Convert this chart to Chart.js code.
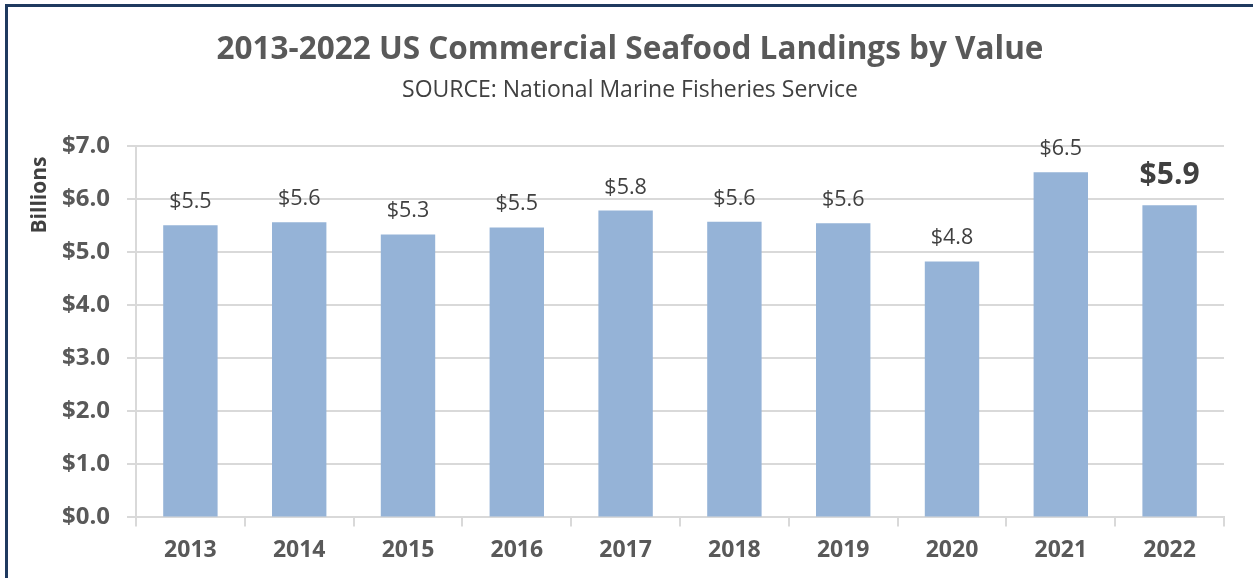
<!DOCTYPE html>
<html>
<head>
<meta charset="utf-8">
<script src="https://cdn.jsdelivr.net/npm/chart.js@4.4.0/dist/chart.umd.min.js"></script>
<style>
  html, body { margin: 0; padding: 0; background: #fff; overflow: hidden; }
  #wrap { position: relative; width: 1253px; height: 578px; }
  #frame { position: absolute; left: 5px; top: 4px; width: 1300px; height: 700px;
           border-top: 3px solid #1f3a5f; border-left: 3px solid #1f3a5f; pointer-events: none; }
  canvas { position: absolute; left: 0; top: 0; }
</style>
</head>
<body>
<div id="wrap">
  <canvas id="landingsChart" width="1253" height="578"></canvas>
  <div id="frame"></div>
</div>
<script>
// values (billions of dollars)
const years = ['2013', '2014', '2015', '2016', '2017', '2018', '2019', '2020', '2021', '2022'];
const landingValues = [5.51, 5.57, 5.34, 5.47, 5.79, 5.58, 5.55, 4.83, 6.51, 5.89];
const valueLabels = ['$5.5', '$5.6', '$5.3', '$5.5', '$5.8', '$5.6', '$5.6', '$4.8', '$6.5', '$5.9'];

const fontFamily = '"Open Sans", "Noto Sans", sans-serif';

// draws the value above each bar, the last one bigger and bold
const barLabels = {
  id: 'barLabels',
  afterDatasetsDraw(chart) {
    const ctx = chart.ctx;
    const meta = chart.getDatasetMeta(0);
    ctx.save();
    ctx.textAlign = 'center';
    ctx.textBaseline = 'alphabetic';
    ctx.fillStyle = '#404040';
    meta.data.forEach((bar, i) => {
      const last = i === meta.data.length - 1;
      ctx.font = last ? `bold 30px ${fontFamily}` : `21.5px ${fontFamily}`;
      ctx.fillText(valueLabels[i], bar.x, bar.y - (last ? 21 : 17));
    });
    ctx.restore();
  }
};

// y axis title sits near the top of the axis, not centred
const yTitle = {
  id: 'yTitle',
  afterDraw(chart) {
    const ctx = chart.ctx;
    ctx.save();
    ctx.translate(40, 195);
    ctx.rotate(-Math.PI / 2);
    ctx.textAlign = 'center';
    ctx.textBaseline = 'middle';
    ctx.fillStyle = '#404040';
    ctx.font = `bold 21px ${fontFamily}`;
    ctx.fillText('Billions', 0, 0);
    ctx.restore();
  }
};

const ctx = document.getElementById('landingsChart').getContext('2d');
const landingsChart = new Chart(ctx, {
  type: 'bar',
  data: {
    labels: years,
    datasets: [{
      label: 'Landings value',
      data: landingValues,
      backgroundColor: '#95b3d7',
      barPercentage: 0.5,
      categoryPercentage: 1.0
    }]
  },
  options: {
    responsive: false,
    animation: false,
    layout: { padding: { left: 36, right: 29, top: 0, bottom: 4 } },
    plugins: {
      legend: { display: false },
      tooltip: { enabled: false },
      title: {
        display: true,
        text: '2013-2022 US Commercial Seafood Landings by Value',
        color: '#595959',
        font: { family: fontFamily, size: 31.5, weight: 'bold' },
        padding: { top: 31, bottom: 8 }
      },
      subtitle: {
        display: true,
        text: 'SOURCE: National Marine Fisheries Service',
        color: '#404040',
        font: { family: fontFamily, size: 23 },
        padding: { top: 0, bottom: 42 }
      }
    },
    scales: {
      x: {
        grid: { display: true, drawOnChartArea: false, color: '#d9d9d9', lineWidth: 2, tickLength: 9, offset: true },
        border: { color: '#d9d9d9', width: 2 },
        ticks: { color: '#595959', font: { family: fontFamily, size: 23, weight: 'bold' }, padding: 10 }
      },
      y: {
        min: 0,
        max: 7,
        afterFit: scale => { scale.width = 100; },
        grid: { color: '#d9d9d9', lineWidth: 2, tickLength: 9 },
        border: { color: '#d9d9d9', width: 2 },
        ticks: {
          stepSize: 1,
          color: '#595959',
          font: { family: fontFamily, size: 24, weight: 'bold' },
          padding: 17,
          callback: value => '$' + value.toFixed(1)
        }
      }
    }
  },
  plugins: [barLabels, yTitle]
});
</script>
</body>
</html>
